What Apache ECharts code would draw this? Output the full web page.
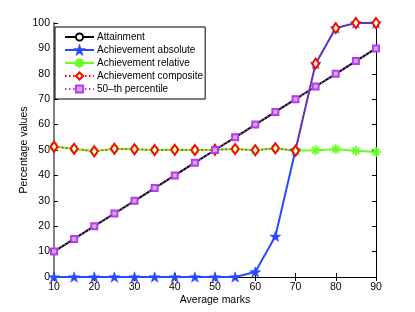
<!DOCTYPE html>
<html><head><meta charset="utf-8">
<script src="https://cdn.jsdelivr.net/npm/echarts@6/dist/echarts.min.js"></script>
<style>html,body{margin:0;padding:0;background:#fff}#c{width:415px;height:312px}</style>
</head><body><div id="c"></div>
<script>
const marks = [10,15,20,25,30,35,40,45,50,55,60,65,70,75,80,85,90];
const attainment = [10,15,20,25,30,35,40,45,50,55,60,65,70,75,80,85,90];
const achAbsolute = [0,0,0,0,0,0,0,0,0,0,2,16,50,84,98,100,100];
const achRelative = [51.3,50.5,49.5,50.5,50.3,50,50.1,50,50.1,50.4,49.9,50.7,49.7,49.9,50.3,49.7,49.2];
const achComposite = [51.3,50.5,49.5,50.5,50.3,50,50.1,50,50.1,50.4,49.9,50.7,49.7,84,98,100,100];
const percentile50 = [10,15,20,25,30,35,40,45,50,55,60,65,70,75,80,85,90];
const xTicks = [10,20,30,40,50,60,70,80,90];
const yTicks = [0,10,20,30,40,50,60,70,80,90,100];

const pair = (ys) => marks.map((x,i)=>[x, ys[i]]);
const STAR = 'path://M0,-10 L2.35,-3.24 9.51,-3.09 3.8,1.24 5.88,8.09 0,4 -5.88,8.09 -3.8,1.24 -9.51,-3.09 -2.35,-3.24 Z';
const AST = 'path://M-1.3,-10 L1.3,-10 L1.3,10 L-1.3,10 Z M-10,-1.3 L-10,1.3 L10,1.3 L10,-1.3 Z M7.99,6.15 L6.15,7.99 L-7.99,-6.15 L-6.15,-7.99 Z M-6.15,7.99 L-7.99,6.15 L6.15,-7.99 L7.99,-6.15 Z';
const FONT = 'Liberation Sans';
const chart = echarts.init(document.getElementById('c'), null, {renderer:'canvas'});
const tickStyle = {color:'#000', fontSize:10.5, fontFamily:FONT};
chart.setOption({
  animation:false,
  backgroundColor:'#fff',
  grid:{left:54, right:39, top:23, bottom:35},
  legend:{
    left:55, top:27, orient:'vertical', itemGap:3, itemWidth:29, itemHeight:9,
    padding:[5,2,5,9],
    borderColor:'#000', borderWidth:1, backgroundColor:'#fff',
    textStyle:{color:'#000', fontSize:10, fontFamily:FONT, padding:[0,0,0,-2]},
    data:['Attainment','Achievement absolute','Achievement relative','Achievement composite','50–th percentile']
  },
  xAxis:[{
    type:'value', min:10, max:90, interval:10,
    name:'Average marks', nameLocation:'middle', nameGap:18, nameMoveOverlap:false,
    nameTextStyle:{color:'#000', fontSize:10.5, fontFamily:FONT},
    axisLine:{show:true, lineStyle:{color:'#000', width:1}},
    axisTick:{inside:true, length:4, lineStyle:{color:'#000'}},
    axisLabel:Object.assign({margin:5, formatter:v=>xTicks.includes(v)?String(v):''}, tickStyle),
    splitLine:{show:false}
  },{
    type:'value', min:10, max:90, interval:10, position:'top',
    axisLine:{show:true, lineStyle:{color:'#000', width:1}},
    axisTick:{inside:true, length:4, lineStyle:{color:'#000'}},
    axisLabel:{show:false}, splitLine:{show:false}
  }],
  yAxis:[{
    type:'value', min:0, max:100, interval:10,
    name:'Percentage values', nameLocation:'middle', nameGap:24, nameRotate:90, nameMoveOverlap:false,
    nameTextStyle:{color:'#000', fontSize:10.5, fontFamily:FONT},
    axisLine:{show:true, lineStyle:{color:'#808080', width:2}},
    axisTick:{inside:true, length:4, lineStyle:{color:'#000'}},
    axisLabel:Object.assign({margin:4, formatter:v=>yTicks.includes(v)?String(v):''}, tickStyle),
    splitLine:{show:false}
  },{
    type:'value', min:0, max:100, interval:10, position:'right',
    axisLine:{show:true, lineStyle:{color:'#000', width:1}},
    axisTick:{inside:true, length:4, lineStyle:{color:'#000'}},
    axisLabel:{show:false}, splitLine:{show:false}
  }],
  series:[
    {name:'Attainment', type:'line', data:pair(attainment), clip:false,
     symbol:'circle', symbolSize:5, showAllSymbol:true,
     lineStyle:{color:'#000', width:2}, itemStyle:{color:'#fff', borderColor:'#000', borderWidth:1.5}},
    {name:'Achievement absolute', type:'line', data:pair(achAbsolute), clip:false,
     symbol:STAR, symbolSize:11, symbolKeepAspect:true,
     lineStyle:{color:'#2a48ff', width:2}, itemStyle:{color:'#2a48ff', borderColor:'#2a48ff', borderWidth:0.5}},
    {name:'Achievement relative', type:'line', data:pair(achRelative), clip:false,
     symbol:AST, symbolSize:9, symbolKeepAspect:true,
     lineStyle:{color:'#66ff22', width:2}, itemStyle:{color:'#66ff22', borderColor:'#66ff22', borderWidth:0.8}},
    {name:'Achievement composite', type:'line', data:pair(achComposite), clip:false,
     symbol:'diamond', symbolSize:[7,10],
     lineStyle:{color:'#ff0000', width:1.5, type:[1.5,2.5]}, itemStyle:{color:'#e8ffd0', borderColor:'#ff0000', borderWidth:2}},
    {name:'50–th percentile', type:'line', data:pair(percentile50), clip:false,
     symbol:'rect', symbolSize:6,
     lineStyle:{color:'#b23fe8', width:1.5, type:[1.5,2.5]}, itemStyle:{color:'#d9a0f5', borderColor:'#b23fe8', borderWidth:2}}
  ]
});
</script></body></html>
